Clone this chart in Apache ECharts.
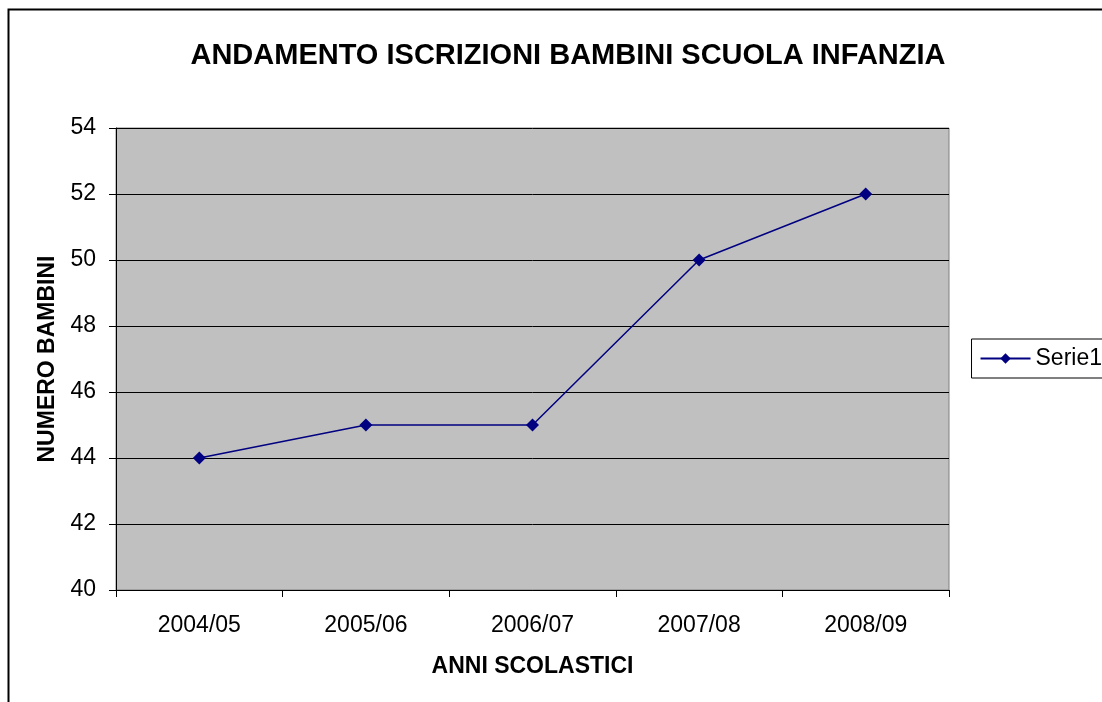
<!DOCTYPE html>
<html>
<head>
<meta charset="utf-8">
<script src="https://cdn.jsdelivr.net/npm/echarts@6/dist/echarts.min.js"></script>
<style>
html, body { margin: 0; padding: 0; background: #fff; }
#main { width: 1102px; height: 702px; }
</style>
</head>
<body>
<div id="main"></div>
<script>
// dati
var categories = ["2004/05", "2005/06", "2006/07", "2007/08", "2008/09"];
var serie1 = [44, 45, 45, 50, 52];
var yTicks = [40, 42, 44, 46, 48, 50, 52, 54];

var chart = echarts.init(document.getElementById("main"));
var font = "Liberation Sans, Arial, sans-serif";

var option = {
    animation: false,
    backgroundColor: "#fff",
    title: {
        text: "ANDAMENTO ISCRIZIONI BAMBINI SCUOLA INFANZIA",
        left: 563,
        textAlign: "center",
        top: 36,
        textStyle: {
            fontFamily: font,
            fontSize: 29,
            fontWeight: "bold",
            color: "#000"
        }
    },
    graphic: [{
        type: "rect",
        shape: { x: 8.5, y: 9.5, width: 1200, height: 800 },
        style: { fill: "none", stroke: "#000", lineWidth: 2 },
        silent: true
    }],
    legend: {
        right: -60,
        top: 339,
        orient: "vertical",
        borderColor: "#000",
        borderWidth: 1,
        padding: [8, 60, 8, 8],
        itemWidth: 50,
        itemHeight: 13,
        itemGap: 4,
        textStyle: { fontFamily: font, fontSize: 23, color: "#000" },
        data: ["Serie1"]
    },
    grid: {
        left: 116,
        top: 128,
        right: 153,
        bottom: 112,
        show: true,
        backgroundColor: "#c0c0c0",
        borderColor: "#808080",
        borderWidth: 1
    },
    xAxis: {
        type: "category",
        data: categories,
        boundaryGap: true,
        name: "ANNI SCOLASTICI",
        nameLocation: "middle",
        nameGap: 65,
        nameTextStyle: { fontFamily: font, fontSize: 23, fontWeight: "bold", color: "#000" },
        axisLine: { lineStyle: { color: "#000", width: 1 } },
        axisTick: { show: true, length: 7, lineStyle: { color: "#000" } },
        axisLabel: { fontFamily: font, fontSize: 23, color: "#000", margin: 24 },
        splitLine: { show: false }
    },
    yAxis: {
        type: "value",
        min: yTicks[0],
        max: yTicks[yTicks.length - 1],
        interval: 2,
        name: "NUMERO BAMBINI",
        nameLocation: "middle",
        nameGap: 57,
        nameTextStyle: { fontFamily: font, fontSize: 23, fontWeight: "bold", color: "#000" },
        axisLine: { show: true, lineStyle: { color: "#000", width: 1 } },
        axisTick: { show: true, length: 7, lineStyle: { color: "#000" } },
        axisLabel: { fontFamily: font, fontSize: 23, color: "#000", margin: 20 },
        splitLine: { show: true, lineStyle: { color: "#000", width: 1 } }
    },
    series: [{
        name: "Serie1",
        type: "line",
        data: serie1,
        symbol: "diamond",
        symbolSize: 13,
        showAllSymbol: true,
        lineStyle: { color: "#000080", width: 1.5 },
        itemStyle: { color: "#000080" }
    }]
};
chart.setOption(option);
</script>
</body>
</html>
